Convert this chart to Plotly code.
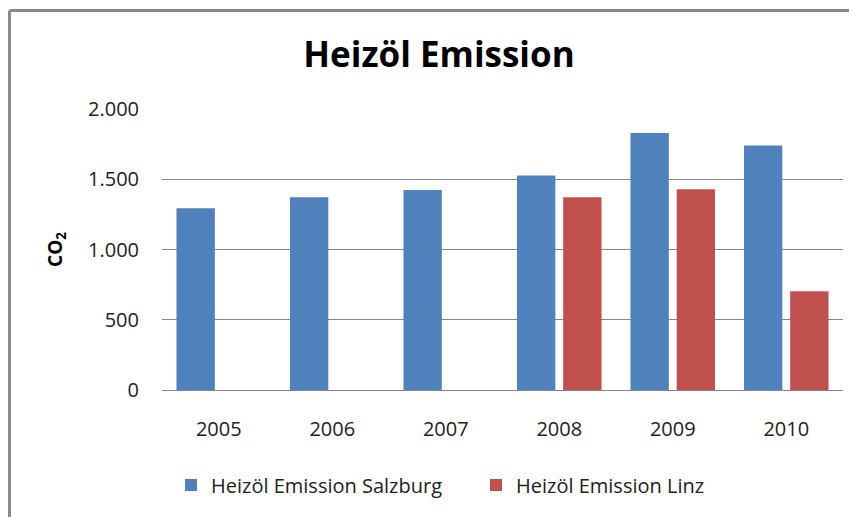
import plotly.graph_objects as go

years = ["2005", "2006", "2007", "2008", "2009", "2010"]
salzburg = [1293, 1372, 1423, 1527, 1829, 1740]
linz = [None, None, None, 1372, 1429, 703]
y_ticks = [0, 500, 1000, 1500, 2000]
y_tick_labels = ["0", "500", "1.000", "1.500", "2.000"]

FONT = "Open Sans"
# the page body has an 8px margin; work in figure coordinates
W, H = 849, 509
L, R, T, B = 154, 14, 101, 124
pw = W - L - R
ph = H - T - B

def px_x(x):
    return (x - L) / pw

def px_y(y):
    return (H - B - y) / ph

fig = go.Figure()
fig.add_trace(go.Bar(x=years, y=salzburg, name="Heizöl Emission Salzburg",
                     marker=dict(color="#4F81BD", line=dict(width=0))))
fig.add_trace(go.Bar(x=years, y=linz, name="Heizöl Emission Linz",
                     marker=dict(color="#C0504D", line=dict(width=0))))

fig.update_layout(
    width=W, height=H,
    margin=dict(l=L, r=R, t=T, b=B),
    paper_bgcolor="white", plot_bgcolor="white",
    separators=",.",
    barmode="group", bargap=0.186, bargroupgap=0.17,
    title=dict(text="<b>Heizöl Emission</b>", xref="container", x=431 / W,
               xanchor="center", y=1 - 47 / H, yanchor="middle",
               font=dict(family=FONT, size=35, color="black")),
    xaxis=dict(showgrid=False, showline=True, linecolor="#868686", linewidth=1,
               ticks="", tickfont=dict(family=FONT, size=20, color="#222"),
               ticklabelstandoff=21),
    yaxis=dict(range=[0, 2000], tickvals=y_ticks, ticktext=y_tick_labels,
               showgrid=True, gridcolor="#868686", gridwidth=1,
               zeroline=False, showline=False,
               ticks="outside", ticklen=0, ticklabelstandoff=18,
               tickfont=dict(family=FONT, size=20, color="#222"),
               title=dict(text="<b>CO<sub>2</sub></b>", standoff=20,
                          font=dict(family=FONT, size=19, color="black"))),
    legend=dict(orientation="h", x=px_x(163), xanchor="left",
                y=px_y(481), yanchor="middle",
                font=dict(family=FONT, size=20, color="#222"),
                entrywidth=260, entrywidthmode="pixels",
                itemwidth=30, traceorder="normal"),
    shapes=[
        dict(type="line", xref="paper", yref="paper",
             x0=px_x(1.5), x1=px_x(870), y0=px_y(1.5), y1=px_y(1.5),
             line=dict(color="#8a8a8a", width=3)),
        dict(type="line", xref="paper", yref="paper",
             x0=px_x(1.5), x1=px_x(1.5), y0=px_y(1.5), y1=px_y(530),
             line=dict(color="#8a8a8a", width=3)),
    ],
)

fig.write_html("out.html")
